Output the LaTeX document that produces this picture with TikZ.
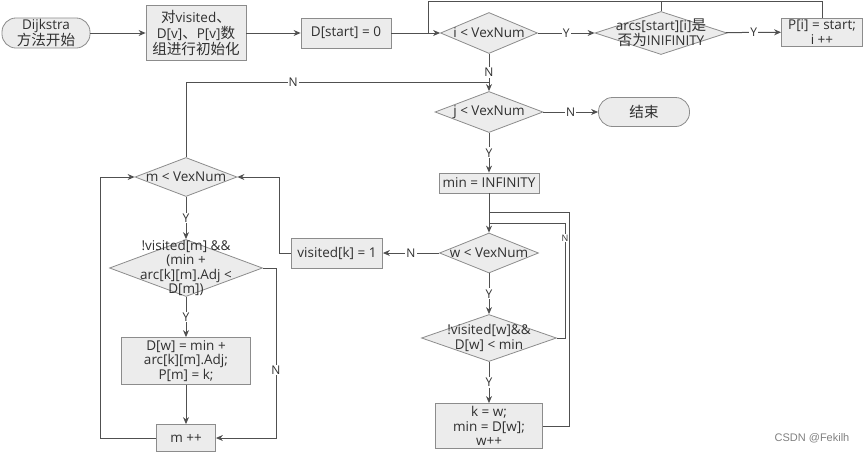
\documentclass[tikz,border=0pt]{standalone}
\usepackage{fontspec}
\setmainfont{Open Sans}
\newfontfamily\cjk{Noto Sans CJK SC}[Scale=1.08]
\newfontfamily\wmfont{Liberation Sans}
\usetikzlibrary{shapes.geometric,arrows.meta}
\definecolor{bord}{HTML}{8C8C8C}
\definecolor{fillc}{HTML}{ECECEC}
\definecolor{linec}{HTML}{505050}
\definecolor{txtc}{HTML}{303030}
\tikzset{
  box/.style={draw=bord, fill=fillc, line width=0.8pt, align=center, inner sep=1pt,
    text=txtc, font=\fontsize{13.5}{14.5}\selectfont},
  term/.style={box, rounded corners=14pt},
  dia/.style={diamond, draw=bord, fill=fillc, line width=0.8pt, inner sep=0pt},
  txt/.style={align=center, inner sep=0pt, text=txtc, font=\fontsize{13.5}{14.5}\selectfont},
  line/.style={draw=linec, line width=1pt},
  arr/.style={line, -{Stealth[length=7pt,width=6pt]}},
  lab/.style={fill=white, inner sep=1pt, text=txtc, font=\fontsize{12}{14}\selectfont},
}
\begin{document}
\begin{tikzpicture}[x=1pt,y=-1pt]
\useasboundingbox (0,0) rectangle (865,453);
% row 1
\node[term, minimum width=88, minimum height=28] (start) at (46,33) {Dijkstra\\{\cjk 方法开始}};
\node[box, minimum width=100, minimum height=55, font=\fontsize{13.5}{16}\selectfont] (init) at (196,33)
  {{\cjk 对}visited{\cjk 、}\\D[v]{\cjk 、}P[v]{\cjk 数}\\{\cjk 组进行初始化}};
\node[box, minimum width=90, minimum height=30] (dst) at (346,33) {D[start] = 0};
\node[dia, minimum width=97, minimum height=41] (d1) at (489,33) {};
\node[txt] (d1t) at (d1) {i < VexNum};
\node[dia, minimum width=132, minimum height=43] (arcs) at (661,33) {};
\node[txt] (arcst) at (arcs) {arcs[start][i]{\cjk 是}\\{\cjk 否为}INIFINITY};
\node[box, minimum width=81, minimum height=28] (pb) at (822,32) {P[i] = start;\\i ++};
% middle column
\node[dia, minimum width=108, minimum height=41] (d2) at (489,112) {};
\node[txt] (d2t) at (d2) {j < VexNum};
\node[term, minimum width=91, minimum height=29] (end) at (644,112) {\cjk 结束};
\node[box, minimum width=100, minimum height=20, inner sep=0pt] (minb) at (489,183) {min = INFINITY};
\node[dia, minimum width=99, minimum height=40] (dw) at (489,253) {};
\node[txt] (dwt) at (dw) {w < VexNum};
\node[dia, minimum width=135, minimum height=47] (dv) at (489,338) {};
\node[txt] (dvt) at (dv) {!visited[w]\&\&\\D[w] < min};
\node[box, minimum width=107, minimum height=45] (kb) at (489,426) {k = w;\\min = D[w];\\w++};
% left column
\node[box, minimum width=91, minimum height=30] (visb) at (337,253) {visited[k] = 1};
\node[dia, minimum width=102, minimum height=39] (dm) at (186,177) {};
\node[txt] (dmt) at (dm) {m < VexNum};
\node[dia, minimum width=153, minimum height=57] (dc) at (186,268) {};
\node[txt] (dct) at (dc) {!visited[m] \&\&\\(min +\\arc[k][m].Adj <\\D[m])};
\node[box, minimum width=129, minimum height=47] (dwb) at (186,361) {D[w] = min +\\arc[k][m].Adj;\\P[m] = k;};
\node[box, minimum width=59, minimum height=27] (mpp) at (186,438) {m ++};
\node[text=gray, font=\wmfont\fontsize{11}{13}\selectfont, inner sep=0pt] (wm) at (812,438) {CSDN @Fekilh};
% connectors row 1
\draw[arr] (start) -- (init);
\draw[arr] (init) -- (dst);
\draw[arr] (dst) -- (d1);
\coordinate (tl) at (428,1);
\coordinate (tj) at (428,33);
\draw[line] (pb.north) |- (tl) -- (tj);
\draw[line] (arcs.north) -- (arcs.north |- tl);
\draw[arr] (d1) -- node[lab]{Y} (arcs);
\draw[arr] (arcs) -- node[lab]{Y} (pb);
% middle
\coordinate (jn) at (489,82);
\draw[line] (dm.north) |- node[lab,pos=0.677]{N} (jn);
\draw[arr] (d1) -- node[lab]{N} (d2);
\draw[arr] (d2) -- node[lab]{N} (end);
\draw[arr] (d2) -- node[lab]{Y} (minb);
\draw[arr] (minb) -- (dw);
\coordinate (o1) at (569,212);
\coordinate (o2) at (489,212);
\draw[line] (kb.east) -| (o1) -- (o2);
\coordinate (i1) at (565,223);
\coordinate (i2) at (489,223);
\draw[line] (dv.east) -| node[lab,pos=0.935,font=\fontsize{9}{10}\selectfont,inner sep=0.5pt]{N} (i1) -- (i2);
\draw[arr] (dw) -- node[lab]{N} (visb);
\draw[arr] (dw) -- node[lab]{Y} (dv);
\draw[arr] (dv) -- node[lab]{Y} (kb);
% left
\coordinate (v1) at (279,253);
\draw[arr] (visb.west) -- (v1) |- (dm.east);
\draw[arr] (dm) -- node[lab]{Y} (dc);
\coordinate (c1) at (276,268);
\draw[arr] (dc.east) -- (c1) |- node[lab,pos=0.3]{N} (mpp.east);
\draw[arr] (dc) -- node[lab]{Y} (dwb);
\draw[arr] (dwb) -- (mpp);
\coordinate (m1) at (100,438);
\draw[arr] (mpp.west) -- (m1) |- (dm.west);
\end{tikzpicture}
\end{document}
